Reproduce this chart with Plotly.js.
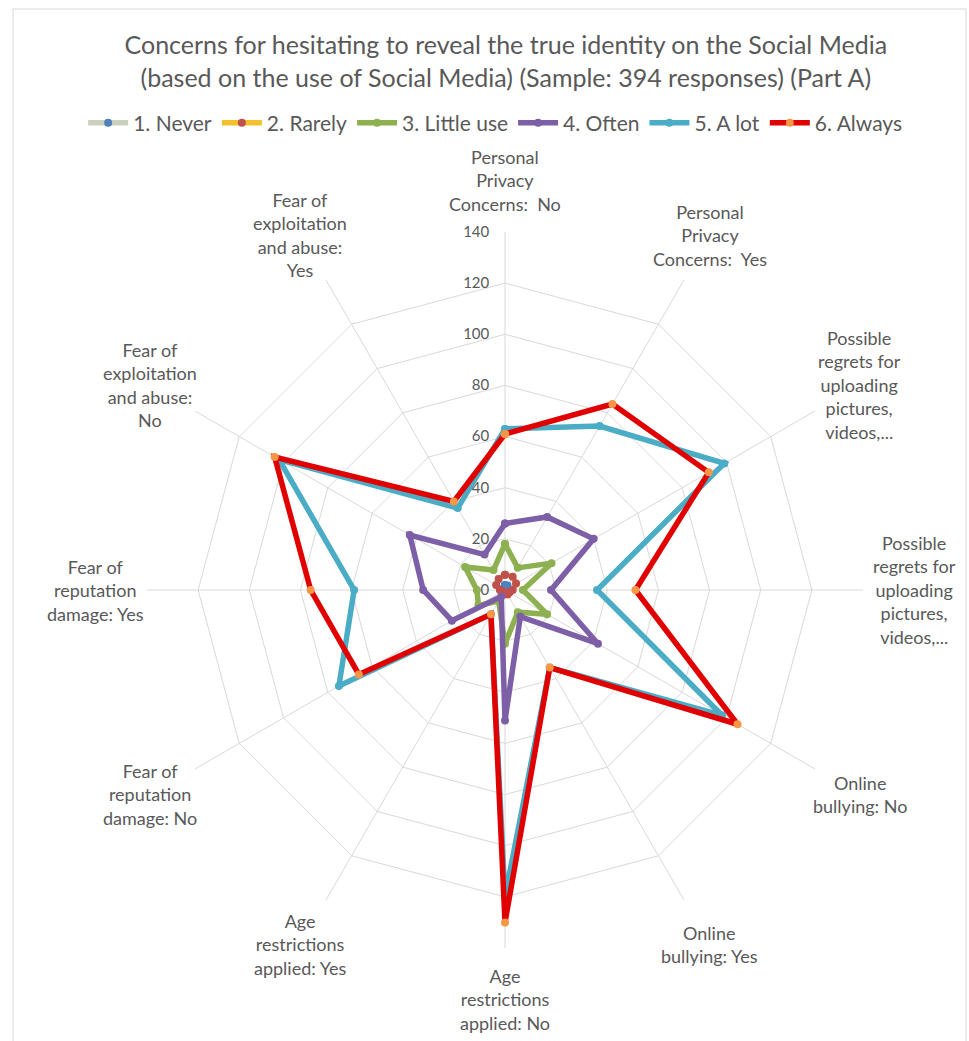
<!DOCTYPE html>
<html>
<head>
<meta charset="utf-8">
<script src="https://cdn.plot.ly/plotly-3.0.1.min.js"></script>
<style>
html,body{margin:0;padding:0;background:#fff;}
#chart{width:969px;height:1041px;}
</style>
</head>
<body>
<div id="chart"></div>
<script>
// Category keys (clockwise from top) and the labels shown for them
const categories = [
  "PP-No", "PP-Yes", "PR-No", "PR-Yes", "OB-No", "OB-Yes",
  "AR-No", "AR-Yes", "FR-No", "FR-Yes", "FE-No", "FE-Yes"
];
const categoryLabels = [
  "Personal<br>Privacy<br>Concerns:  No",
  "Personal<br>Privacy<br>Concerns:  Yes",
  "Possible<br>regrets for<br>uploading<br>pictures,<br>videos,...",
  "Possible<br>regrets for<br>uploading<br>pictures,<br>videos,...",
  "Online<br>bullying: No",
  "Online<br>bullying: Yes",
  "Age<br>restrictions<br>applied: No",
  "Age<br>restrictions<br>applied: Yes",
  "Fear of<br>reputation<br>damage: No",
  "Fear of<br>reputation<br>damage: Yes",
  "Fear of<br>exploitation<br>and abuse:<br>No",
  "Fear of<br>exploitation<br>and abuse:<br>Yes"
];

const seriesNames = ["1. Never", "2. Rarely", "3. Little use", "4. Often", "5. A lot", "6. Always"];

const never    = [2, 2, 1, 1, 1, 1, 0, 0, 1, 1, 1, 1];
const rarely   = [6, 6, 5, 3, 2, 2, 1, 1, 1, 2, 4, 5];
const littleUse= [18, 10, 21, 7, 19, 10, 21, 5, 12, 11, 18, 9];
const often    = [26, 33, 40, 18, 42, 12, 51, 3, 24, 32, 43, 16];
const aLot     = [63, 74, 99, 36, 98, 35, 120, 11, 75, 59, 102, 37];
const always   = [61, 84, 92, 51, 105, 35, 130, 11, 66, 76, 104, 40];

const radialTicks = [0, 20, 40, 60, 80, 100, 120, 140];

const values = [never, rarely, littleUse, often, aLot, always];
const lineColors   = ["#c9d1bd", "#f2c12e", "#8db151", "#7d5fa8", "#4bacc6", "#e00000"];
const markerColors = ["#4f81bd", "#c0504d", "#8db151", "#7d5fa8", "#4bacc6", "#f79646"];

const traces = values.map((v, i) => ({
  type: "scatterpolar",
  mode: "lines+markers",
  name: seriesNames[i],
  r: v.concat([v[0]]),
  theta: categories.concat([categories[0]]),
  line: {color: lineColors[i], width: 5.5},
  marker: {color: markerColors[i], size: 8},
  cliponaxis: false
}));

const W = 969, H = 1041;
const cx = 505, cy = 590, R = 358;
const labelR = 1.145 * R;

const font = "Lato, 'Open Sans', sans-serif";

// Category labels placed around the polar area, centred like the reference
const annotations = categoryLabels.map((txt, i) => {
  const a = (i * 360 / categories.length) * Math.PI / 180;
  return {
    xref: "paper", yref: "paper",
    x: (cx + labelR * Math.sin(a)) / W,
    y: (H - cy + labelR * Math.cos(a)) / H,
    xanchor: "center", yanchor: "middle", align: "center",
    text: txt, showarrow: false,
    font: {family: font, size: 18, color: "#595959"}
  };
});

const layout = {
  width: W, height: H,
  margin: {l: 0, r: 0, t: 0, b: 0},
  paper_bgcolor: "#fff",
  plot_bgcolor: "#fff",
  font: {family: font, color: "#595959", size: 14},
  title: {
    text: "Concerns for hesitating to reveal the true identity on the Social Media<br>(based on the use of Social Media) (Sample: 394 responses) (Part A)",
    font: {family: font, size: 25, color: "#595959"},
    x: 0.522, xanchor: "center",
    y: 1 - 54 / H, yanchor: "middle"
  },
  showlegend: true,
  legend: {
    orientation: "h",
    x: 0.511, xanchor: "center",
    y: 1 - 123 / H, yanchor: "middle",
    font: {family: font, size: 21, color: "#595959"},
    itemwidth: 40,
    traceorder: "normal"
  },
  annotations: annotations,
  polar: {
    domain: {
      x: [(cx - R) / W, (cx + R) / W],
      y: [(H - cy - R) / H, (H - cy + R) / H]
    },
    gridshape: "linear",
    bgcolor: "#fff",
    angularaxis: {
      type: "category",
      categoryarray: categories,
      direction: "clockwise",
      rotation: 90,
      showline: false,
      showticklabels: false,
      gridcolor: "#d9d9d9",
      gridwidth: 1,
      ticks: ""
    },
    radialaxis: {
      range: [0, 140],
      tickvals: radialTicks,
      angle: 90,
      tickangle: 90,
      side: "counterclockwise",
      showline: false,
      gridcolor: "#d9d9d9",
      gridwidth: 1,
      ticks: "outside",
      ticklen: 10,
      tickcolor: "rgba(0,0,0,0)",
      tickfont: {family: font, size: 15, color: "#595959"}
    }
  },
  shapes: [{
    type: "rect", xref: "paper", yref: "paper",
    x0: 13 / W, x1: 966 / W, y0: -0.01, y1: 1 - 9 / H,
    line: {color: "#d9d9d9", width: 1}
  }]
};

Plotly.newPlot("chart", traces, layout, {displayModeBar: false, staticPlot: true});
</script>
</body>
</html>
